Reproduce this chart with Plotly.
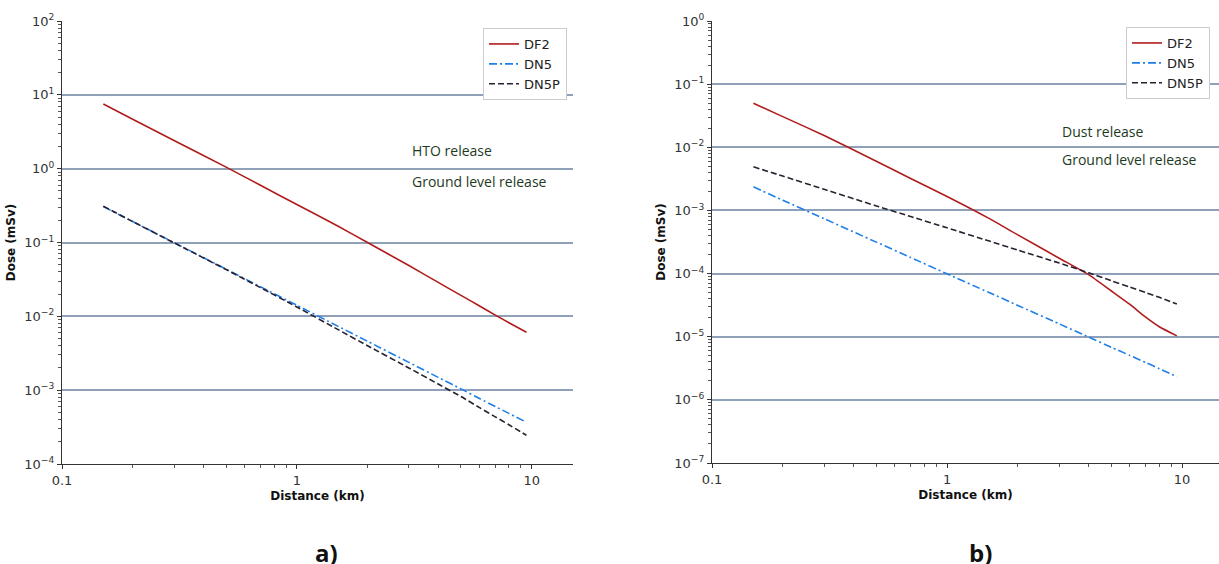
import plotly.graph_objects as go

# ---- data ----
distance_km = [0.15, 0.2, 0.3, 0.5, 0.7, 1.0, 1.5, 2.0, 3.0, 4.0, 5.0, 6.0, 7.0, 8.0, 9.5]

# a) HTO release, ground level
hto_df2 = [7.5, 4.68, 2.41, 1.05, 0.595, 0.327, 0.166, 0.10, 0.0487, 0.0288, 0.0192, 0.0138, 0.0104, 0.0082, 0.0061]
hto_dn5 = [0.306, 0.192, 0.0996, 0.0435, 0.0252, 0.01413, 0.00732, 0.00459, 0.00238, 0.00149, 0.00104, 0.00077, 0.00060, 0.000485, 0.000367]
hto_dn5p = [0.31, 0.192, 0.099, 0.043, 0.0245, 0.0134, 0.0066, 0.0040, 0.0020, 0.00121, 0.00082, 0.00058, 0.000435, 0.00034, 0.000245]

# b) Dust release, ground level
dust_df2 = [0.050, 0.0306, 0.0154, 0.0060, 0.0032, 0.00166, 0.000755, 0.00041, 0.000175, 0.000096, 0.000053, 0.0000324, 0.0000204, 0.0000144, 0.0000103]
dust_dn5 = [0.00237, 0.00145, 0.00074, 0.000315, 0.00018, 0.000099, 0.0000506, 0.0000313, 0.000016, 0.0000099, 0.0000068, 0.00000505, 0.0000039, 0.00000312, 0.00000233]
dust_dn5p = [0.0049, 0.0035, 0.00216, 0.00118, 0.00080, 0.00053, 0.00033, 0.000235, 0.000147, 0.000103, 0.000077, 0.000061, 0.000050, 0.000042, 0.000033]

series_names = ["DF2", "DN5", "DN5P"]
x_tick_vals = [0.1, 1, 10]
x_tick_text = ["0.1", "1", "10"]
y_exps_a = [-4, -3, -2, -1, 0, 1, 2]
y_exps_b = [-7, -6, -5, -4, -3, -2, -1, 0]

# ---- styles ----
colors = ["#b01c1c", "#1f7fe8", "#2a2030"]
dashes = ["solid", "8px,3px,2px,3px", "6px,3px"]
grid_color = "#8ea1b9"
font_fam = "DejaVu Sans"


def sup(e):
    s = str(e).replace("-", "\u2212")
    return f"10<sup>{s}</sup>"


def minor_vals(lo_exp, hi_exp):
    return [m * 10 ** e for e in range(lo_exp, hi_exp) for m in range(2, 10)]


fig = go.Figure()

panels = [
    ("x", "y", "legend", [hto_df2, hto_dn5, hto_dn5p]),
    ("x2", "y2", "legend2", [dust_df2, dust_dn5, dust_dn5p]),
]
for xa, ya, lg, vals in panels:
    for name, v, c, d in zip(series_names, vals, colors, dashes):
        fig.add_trace(go.Scatter(
            x=distance_km, y=v, name=name, mode="lines",
            line=dict(color=c, dash=d, width=1.6, shape="spline", smoothing=0.5),
            xaxis=xa, yaxis=ya, legend=lg,
        ))

common_x = dict(
    type="log", showgrid=False, showline=True, linecolor="#333", linewidth=1.3,
    ticks="outside", ticklen=4, tickcolor="#333", zeroline=False,
    tickvals=x_tick_vals, ticktext=x_tick_text,
    tickfont=dict(family=font_fam, size=13, color="#333"),
    title=dict(text="<b>Distance (km)</b>", font=dict(family=font_fam, size=12, color="#111"), standoff=4),
    automargin=False,
)
common_y = dict(
    type="log", showgrid=True, gridcolor=grid_color, gridwidth=1.6,
    showline=True, linecolor="#333", linewidth=1.3,
    ticks="outside", ticklen=4, tickcolor="#333", zeroline=False,
    tickfont=dict(family=font_fam, size=13, color="#333"),
    title=dict(text="<b>Dose (mSv)</b>", font=dict(family=font_fam, size=12, color="#111"), standoff=6),
    automargin=False,
)

fig.update_layout(
    width=1219, height=564,
    margin=dict(l=0, r=0, t=0, b=0, autoexpand=False),
    paper_bgcolor="white", plot_bgcolor="white",
    showlegend=True,
    xaxis=dict(common_x, domain=[62 / 1219, 573 / 1219], range=[-1, 1.176], anchor="y",
               minor=dict(tickvals=minor_vals(-1, 2), ticks="outside", ticklen=2.5, tickcolor="#555", showgrid=False)),
    yaxis=dict(common_y, domain=[1 - 464 / 564, 1 - 21 / 564], range=[-4, 2], anchor="x",
               tickvals=[10 ** e for e in y_exps_a], ticktext=[sup(e) for e in y_exps_a],
               minor=dict(tickvals=minor_vals(-4, 2), ticks="outside", ticklen=2.5, tickcolor="#555", showgrid=False)),
    xaxis2=dict(common_x, domain=[712 / 1219, 1.0], range=[-1, 1.157], anchor="y2",
                minor=dict(tickvals=minor_vals(-1, 2), ticks="outside", ticklen=2.5, tickcolor="#555", showgrid=False)),
    yaxis2=dict(common_y, domain=[1 - 463 / 564, 1 - 21 / 564], range=[-7, 0], anchor="x2",
                tickvals=[10 ** e for e in y_exps_b], ticktext=[sup(e) for e in y_exps_b],
                minor=dict(tickvals=minor_vals(-7, 0), ticks="outside", ticklen=2.5, tickcolor="#555", showgrid=False)),
    legend=dict(x=567 / 1219, y=1 - 28 / 564, xanchor="right", yanchor="top",
                bgcolor="white", bordercolor="#cccccc", borderwidth=1,
                font=dict(family=font_fam, size=13, color="#222"), tracegroupgap=0, itemwidth=30),
    legend2=dict(x=1210 / 1219, y=1 - 27 / 564, xanchor="right", yanchor="top",
                 bgcolor="white", bordercolor="#cccccc", borderwidth=1,
                 font=dict(family=font_fam, size=13, color="#222"), tracegroupgap=0, itemwidth=30),
)

ann_font = dict(family="Open Sans", size=14, color="#1e3a1e")
texts = [
    ("HTO release", 410 / 1219, 1 - 151 / 564),
    ("Ground level release", 410 / 1219, 1 - 181 / 564),
    ("Dust release", 1060 / 1219, 1 - 131 / 564),
    ("Ground level release", 1060 / 1219, 1 - 159 / 564),
]
for t, x, y in texts:
    fig.add_annotation(text=t, x=x, y=y, xref="paper", yref="paper",
                       xanchor="left", yanchor="middle", showarrow=False, font=ann_font)

for t, x in [("a)", 327 / 1219), ("b)", 980 / 1219)]:
    fig.add_annotation(text=f"<b>{t}</b>", x=x, y=1 - 552 / 564, xref="paper", yref="paper",
                       xanchor="center", yanchor="middle", showarrow=False,
                       font=dict(family="Open Sans", size=24, color="#111"))

fig.write_html("out.html", config={"displayModeBar": False},
               post_script="document.body.style.margin='0';document.body.style.overflow='hidden';")
